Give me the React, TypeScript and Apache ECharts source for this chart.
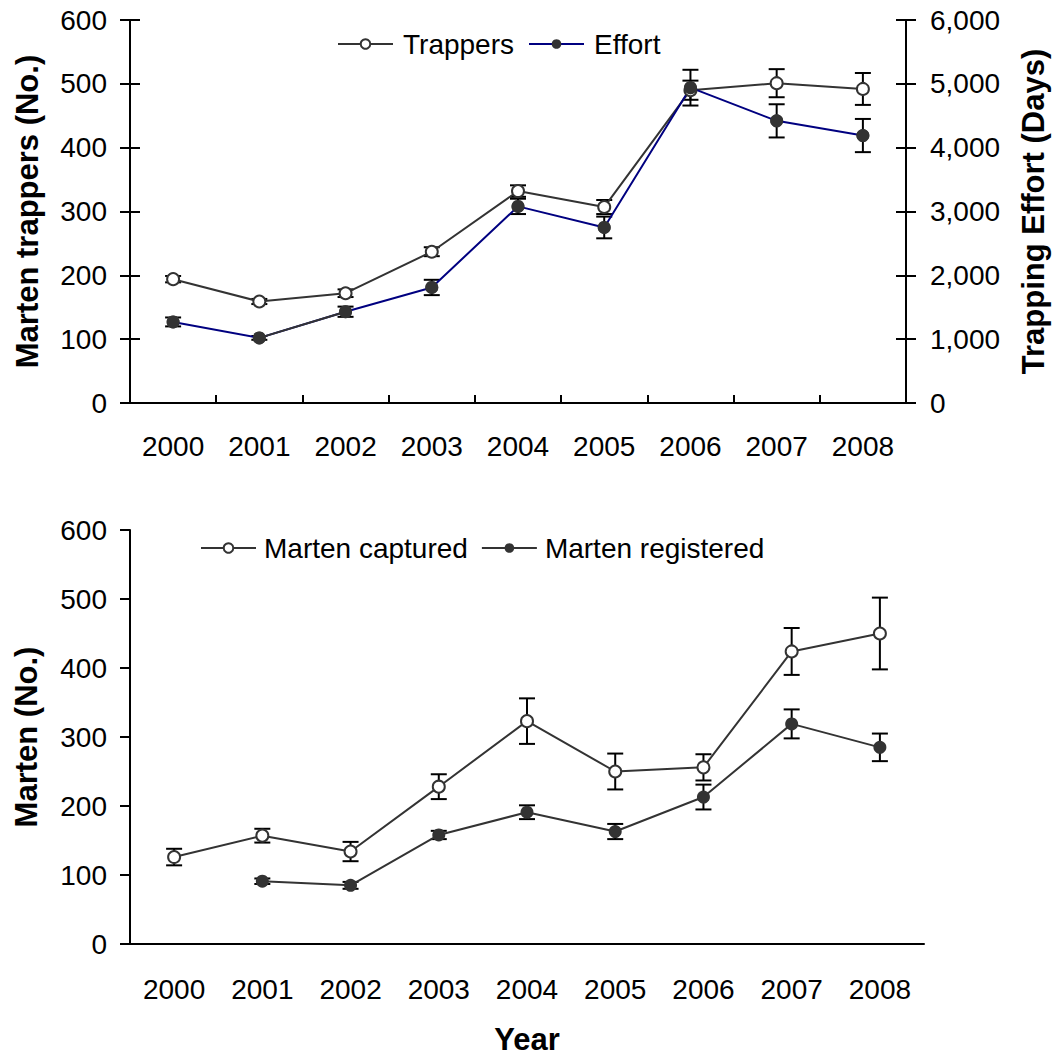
import React, { useEffect, useRef } from "react";
import * as echarts from "echarts";

const years = ["2000", "2001", "2002", "2003", "2004", "2005", "2006", "2007", "2008"];
const trappers = [194, 159, 172, 237, 332, 307, 490, 501, 492];
const trappersErr = [5, 4, 6, 7, 9, 11, 15, 22, 25];
const effort = [1270, 1020, 1430, 1810, 3080, 2750, 4940, 4420, 4190];
const effortErr = [70, 30, 80, 120, 120, 170, 280, 260, 260];
const captured = [126, 157, 134, 228, 323, 250, 256, 424, 450];
const capturedErr = [12, 10, 14, 18, 33, 26, 19, 34, 52];
const registered: (number | null)[] = [null, 91, 85, 158, 191, 163, 213, 319, 285];
const registeredErr: (number | null)[] = [null, 4, 5, 6, 10, 11, 18, 21, 20];

const FONT = "'Liberation Sans', Arial, Helvetica, sans-serif";
const DARK = "#333333";
const NAVY = "#000080";

function errData(vals: (number | null)[], errs: (number | null)[]) {
  const out: number[][] = [];
  vals.forEach((v, i) => {
    if (v != null && errs[i] != null) out.push([i, v, errs[i] as number]);
  });
  return out;
}

function errSeries(vals: (number | null)[], errs: (number | null)[], xi: number, yi: number) {
  return {
    type: "custom",
    xAxisIndex: xi,
    yAxisIndex: yi,
    z: 2,
    silent: true,
    encode: { x: 0, y: 1 },
    data: errData(vals, errs),
    renderItem: (params: any, api: any) => {
      const x = api.value(0);
      const v = api.value(1);
      const e = api.value(2);
      const t = api.coord([x, v + e]);
      const b = api.coord([x, v - e]);
      const hw = 8;
      const st = { stroke: "#000", lineWidth: 2 };
      return {
        type: "group",
        children: [
          { type: "line", shape: { x1: t[0], y1: t[1], x2: b[0], y2: b[1] }, style: st },
          { type: "line", shape: { x1: t[0] - hw, y1: t[1], x2: t[0] + hw, y2: t[1] }, style: st },
          { type: "line", shape: { x1: b[0] - hw, y1: b[1], x2: b[0] + hw, y2: b[1] }, style: st },
        ],
      };
    },
  };
}

const axisLineStyle = { color: "#000", width: 2 };
const labelStyle = { fontSize: 28, color: "#000", fontFamily: FONT };
const nameStyle = { fontSize: 31, fontWeight: "bold", color: "#000", fontFamily: FONT };

export default function App() {
  const ref = useRef<HTMLDivElement>(null);
  useEffect(() => {
    document.body.style.margin = "0";
    const chart = echarts.init(ref.current!, null, { renderer: "svg" });
    const effortSegment = effort.map((v, i) => (i >= 1 && i <= 2 ? v : null));
    const option: any = {
      animation: false,
      backgroundColor: "#fff",
      textStyle: { fontFamily: FONT },
      grid: [
        { left: 130, top: 20, width: 776, height: 383, outerBoundsMode: "none" },
        { left: 130, top: 530, width: 794, height: 414, outerBoundsMode: "none" },
      ],
      legend: [
        {
          data: ["Trappers", "Effort"],
          left: 337,
          top: 30,
          padding: 0,
          itemWidth: 55,
          itemHeight: 12,
          itemGap: 14,
          textStyle: { ...labelStyle, padding: [0, 0, 0, 5] },
        },
        {
          data: ["Marten captured", "Marten registered"],
          left: 200,
          top: 534,
          padding: 0,
          itemWidth: 55,
          itemHeight: 12,
          itemGap: 13,
          textStyle: { ...labelStyle, padding: [0, 0, 0, 3] },
        },
      ],
      xAxis: [
        {
          gridIndex: 0,
          type: "category",
          data: years,
          boundaryGap: true,
          axisLine: { lineStyle: axisLineStyle },
          axisTick: { length: 8, lineStyle: axisLineStyle },
          axisLabel: { ...labelStyle, margin: 29 },
        },
        {
          gridIndex: 1,
          type: "category",
          data: years,
          boundaryGap: true,
          axisLine: { lineStyle: axisLineStyle },
          axisTick: { length: 10, lineStyle: axisLineStyle },
          axisLabel: { ...labelStyle, margin: 31 },
          name: "Year",
          nameLocation: "middle",
          nameGap: 80,
          nameTextStyle: nameStyle,
        },
        {
          gridIndex: 0,
          type: "category",
          data: years,
          position: "bottom",
          boundaryGap: true,
          axisLine: { show: false },
          axisTick: { show: true, inside: true, length: 8, lineStyle: axisLineStyle },
          axisLabel: { show: false },
        },
      ],
      yAxis: [
        {
          gridIndex: 0,
          type: "value",
          position: "left",
          min: 0,
          max: 600,
          interval: 100,
          splitLine: { show: false },
          axisLine: { show: true, lineStyle: axisLineStyle },
          axisTick: { show: true, length: 10, lineStyle: axisLineStyle },
          axisLabel: { ...labelStyle, margin: 23 },
          name: "Marten trappers (No.)",
          nameLocation: "middle",
          nameRotate: 90,
          nameGap: 87,
          nameTextStyle: nameStyle,
        },
        {
          gridIndex: 0,
          type: "value",
          position: "right",
          min: 0,
          max: 6000,
          interval: 1000,
          splitLine: { show: false },
          axisLine: { show: true, lineStyle: axisLineStyle },
          axisTick: { show: true, length: 10, lineStyle: axisLineStyle },
          axisLabel: {
            ...labelStyle,
            margin: 24,
            formatter: (v: number) => v.toLocaleString("en-US"),
          },
          name: "Trapping Effort (Days)",
          nameLocation: "middle",
          nameRotate: 90,
          nameGap: 112,
          nameTextStyle: nameStyle,
        },
        {
          gridIndex: 1,
          type: "value",
          position: "left",
          min: 0,
          max: 600,
          interval: 100,
          splitLine: { show: false },
          axisLine: { show: true, lineStyle: axisLineStyle },
          axisTick: { show: true, length: 10, lineStyle: axisLineStyle },
          axisLabel: { ...labelStyle, margin: 23 },
          name: "Marten (No.)",
          nameLocation: "middle",
          nameRotate: 90,
          nameGap: 88,
          nameTextStyle: nameStyle,
        },
        {
          gridIndex: 0,
          type: "value",
          position: "left",
          min: 0,
          max: 600,
          interval: 100,
          splitLine: { show: false },
          axisLine: { show: false },
          axisTick: { show: true, inside: true, length: 10, lineStyle: axisLineStyle },
          axisLabel: { show: false },
        },
        {
          gridIndex: 0,
          type: "value",
          position: "right",
          min: 0,
          max: 6000,
          interval: 1000,
          splitLine: { show: false },
          axisLine: { show: false },
          axisTick: { show: true, inside: true, length: 10, lineStyle: axisLineStyle },
          axisLabel: { show: false },
        },
      ],
      series: [
        errSeries(trappers, trappersErr, 0, 0),
        errSeries(effort, effortErr, 0, 1),
        {
          name: "Trappers",
          type: "line",
          xAxisIndex: 0,
          yAxisIndex: 0,
          z: 3,
          data: trappers,
          symbol: "circle",
          symbolSize: 12,
          lineStyle: { color: DARK, width: 2 },
          itemStyle: { color: "#fff", borderColor: DARK, borderWidth: 2 },
        },
        {
          name: "Effort",
          type: "line",
          xAxisIndex: 0,
          yAxisIndex: 1,
          z: 3,
          data: effort,
          symbol: "circle",
          symbolSize: 13,
          lineStyle: { color: NAVY, width: 2 },
          itemStyle: { color: DARK, borderColor: DARK, borderWidth: 0 },
        },
        {
          name: "EffortSegment",
          type: "line",
          xAxisIndex: 0,
          yAxisIndex: 1,
          z: 4,
          data: effortSegment,
          symbol: "none",
          lineStyle: { color: DARK, width: 2 },
          silent: true,
        },
        {
          name: "EffortMarkers",
          type: "scatter",
          xAxisIndex: 0,
          yAxisIndex: 1,
          z: 5,
          data: effort,
          symbol: "circle",
          symbolSize: 13,
          itemStyle: { color: DARK },
          silent: true,
        },
        errSeries(captured, capturedErr, 1, 2),
        errSeries(registered, registeredErr, 1, 2),
        {
          name: "Marten captured",
          type: "line",
          xAxisIndex: 1,
          yAxisIndex: 2,
          z: 3,
          data: captured,
          symbol: "circle",
          symbolSize: 12,
          lineStyle: { color: DARK, width: 2 },
          itemStyle: { color: "#fff", borderColor: DARK, borderWidth: 2 },
        },
        {
          name: "Marten registered",
          type: "line",
          xAxisIndex: 1,
          yAxisIndex: 2,
          z: 3,
          data: registered,
          symbol: "circle",
          symbolSize: 13,
          lineStyle: { color: DARK, width: 2 },
          itemStyle: { color: DARK, borderWidth: 0 },
        },
      ],
    };
    chart.setOption(option);
    return () => chart.dispose();
  }, []);
  return <div ref={ref} style={{ width: 1055, height: 1059 }} />;
}
